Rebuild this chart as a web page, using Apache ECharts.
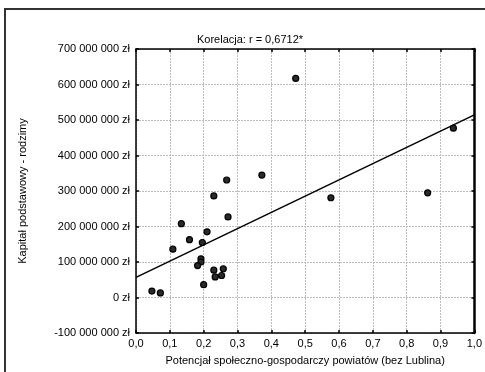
<!DOCTYPE html>
<html>
<head>
<meta charset="utf-8">
<script src="https://cdn.jsdelivr.net/npm/echarts@6/dist/echarts.min.js"></script>
<style>
  html, body { margin: 0; padding: 0; background: #fff; }
  #chart { width: 485px; height: 372px; }
</style>
</head>
<body>
<div id="chart"></div>
<script>
// Potencjał społeczno-gospodarczy (x) vs kapitał podstawowy (y, zł)
const potencjal = [0.472, 0.938, 0.862, 0.576, 0.372, 0.268, 0.230, 0.272, 0.134, 0.210, 0.158, 0.196,
  0.109, 0.192, 0.192, 0.182, 0.230, 0.258, 0.234, 0.253, 0.200, 0.047, 0.072];
const kapital = [617e6, 477e6, 295e6, 281e6, 345e6, 331e6, 286e6, 227e6, 208e6, 185e6, 163e6, 155e6,
  136e6, 109e6, 100e6, 90e6, 77e6, 81e6, 58e6, 62e6, 36e6, 18e6, 13e6];
const titleText = "Korelacja: r = 0,6712*";
const xName = "Potencjał społeczno-gospodarczy powiatów (bez Lublina)";
const yName = "Kapitał podstawowy - rodzimy";

// least-squares fit for the trend line
function fit(xs, ys) {
  const n = xs.length;
  const mx = xs.reduce((a, b) => a + b, 0) / n;
  const my = ys.reduce((a, b) => a + b, 0) / n;
  let sxy = 0, sxx = 0;
  for (let i = 0; i < n; i++) {
    sxy += (xs[i] - mx) * (ys[i] - my);
    sxx += (xs[i] - mx) * (xs[i] - mx);
  }
  const slope = sxy / sxx;
  return { slope, intercept: my - slope * mx };
}
const lr = fit(potencjal, kapital);
const xMin = 0, xMax = 1;

function zl(v) {
  if (v === 0) return "0 zł";
  const s = Math.abs(Math.round(v)).toString().replace(/\B(?=(\d{3})+(?!\d))/g, " ");
  return (v < 0 ? "-" : "") + s + " zł";
}
const dec = (v) => v.toFixed(1).replace(".", ",");

const FONT = "'Liberation Sans', Arial, sans-serif";
const chart = echarts.init(document.getElementById("chart"), null, { renderer: "canvas" });

const gridLine = { show: true, lineStyle: { color: "#bdbdbd", type: [2, 1], width: 1 } };
const tick = { show: true, inside: true, length: 3, lineStyle: { color: "#000", width: 1.5 } };

chart.setOption({
  animation: false,
  textStyle: { fontFamily: FONT },
  title: {
    text: titleText,
    left: 245,
    top: 29,
    textAlign: "center",
    textStyle: { fontSize: 11, fontWeight: "normal", color: "#000", fontFamily: FONT },
  },
  graphic: [{
    type: "rect",
    shape: { x: 5, y: 9, width: 490, height: 380 },
    style: { fill: null, stroke: "#333", lineWidth: 2 },
    silent: true,
  }],
  grid: { left: 136, right: 7, top: 49, bottom: 39 },
  xAxis: [{
    type: "value",
    min: xMin, max: xMax, interval: 0.1,
    name: xName,
    nameLocation: "middle",
    nameGap: 22,
    nameTextStyle: { fontSize: 11, color: "#000", fontFamily: FONT },
    axisLine: { show: true, onZero: false, lineStyle: { color: "#000", width: 1.5 } },
    axisTick: tick,
    axisLabel: { fontSize: 11, color: "#000", margin: 5, formatter: dec },
    splitLine: gridLine,
  }, {
    type: "value",
    position: "top",
    min: xMin, max: xMax, interval: 0.1,
    axisLine: { show: true, onZero: false, lineStyle: { color: "#000", width: 1.5 } },
    axisTick: tick,
    axisLabel: { show: false },
    splitLine: { show: false },
  }],
  yAxis: [{
    type: "value",
    min: -100e6, max: 700e6, interval: 100e6,
    name: yName,
    nameLocation: "middle",
    nameGap: 108,
    nameTextStyle: { fontSize: 11, color: "#000", fontFamily: FONT },
    axisLine: { show: true, onZero: false, lineStyle: { color: "#000", width: 1.5 } },
    axisTick: tick,
    axisLabel: { fontSize: 11, color: "#000", margin: 6, formatter: zl },
    splitLine: gridLine,
  }, {
    type: "value",
    position: "right",
    min: -100e6, max: 700e6, interval: 100e6,
    axisLine: { show: true, onZero: false, lineStyle: { color: "#000", width: 2.5 } },
    axisTick: tick,
    axisLabel: { show: false },
    splitLine: { show: false },
  }],
  series: [{
    type: "line",
    data: [[xMin, lr.intercept + lr.slope * xMin], [xMax, lr.intercept + lr.slope * xMax]],
    showSymbol: false,
    lineStyle: { color: "#000", width: 1.5 },
    silent: true,
    z: 3,
  }, {
    type: "scatter",
    data: potencjal.map((x, i) => [x, kapital[i]]),
    symbol: "circle",
    symbolSize: 6,
    itemStyle: { color: "#2a2a2a", borderColor: "#000", borderWidth: 1.2, opacity: 1 },
    z: 4,
  }],
});
</script>
</body>
</html>
